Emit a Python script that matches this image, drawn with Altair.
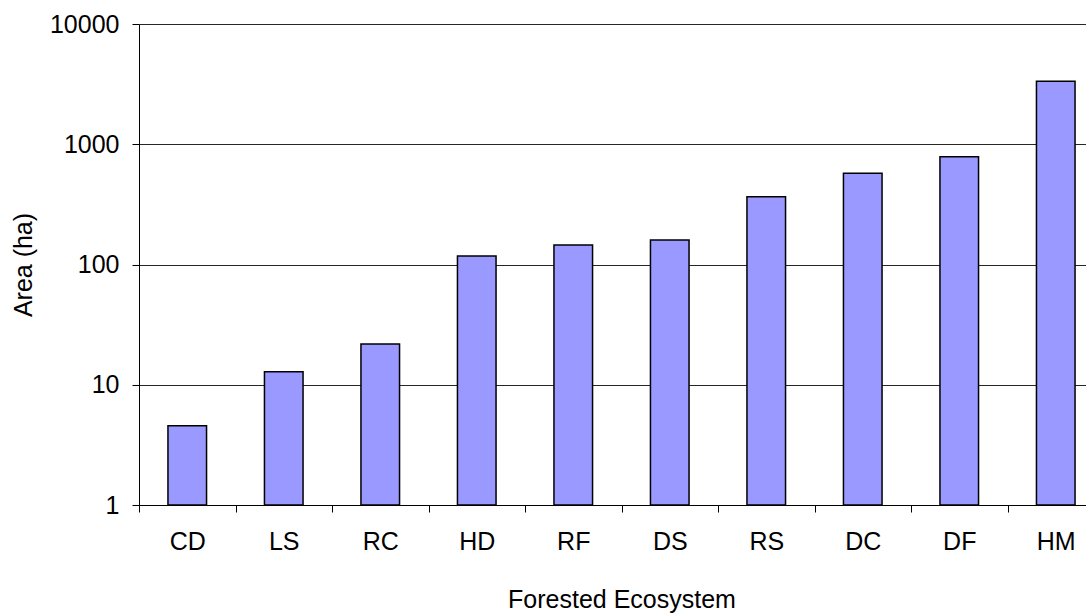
import altair as alt
import pandas as pd

# Area of each forested ecosystem type (ha)
ecosystems = ["CD", "LS", "RC", "HD", "RF", "DS", "RS", "DC", "DF", "HM"]
areas = [4.56, 12.8, 21.8, 117.7, 145.3, 159.9, 366, 573, 788, 3338]

df = pd.DataFrame({"ecosystem": ecosystems, "area": areas})

FONT = "Liberation Sans"
FS = 25

# The category band runs a little past the right edge of the visible view.
BAND_RANGE = 965
STEP = BAND_RANGE / len(ecosystems)

bars = alt.Chart(df).mark_bar(
    color="#9999FF", stroke="#000000", strokeWidth=1.5
).encode(
    x=alt.X(
        "ecosystem:N",
        sort=ecosystems,
        scale=alt.Scale(paddingInner=0.6, paddingOuter=0.3, range=[0, BAND_RANGE]),
        axis=alt.Axis(
            title="Forested Ecosystem",
            titleX=BAND_RANGE / 2,
            labelAngle=0,
            tickOffset=-STEP / 2,
            labelOffset=STEP / 2,
            tickSize=7,
            tickColor="#000000",
            domainColor="#000000",
            labelBaseline="alphabetic",
            labelPadding=37,
            titleY=102,
            titleBaseline="alphabetic",
            grid=False,
        ),
    ),
    y=alt.Y(
        "area:Q",
        scale=alt.Scale(type="log", domain=[1, 10000], nice=False),
        axis=alt.Axis(
            title="Area (ha)",
            values=[1, 10, 100, 1000, 10000],
            format="d",
            tickSize=7,
            tickColor="#000000",
            domainColor="#000000",
            labelPadding=13,
            titleX=-116,
            titleBaseline="middle",
            grid=True,
            gridColor="#000000",
            gridOpacity=0.85,
        ),
    ),
    y2=alt.datum(1),
)

chart = bars.properties(
    width=947,
    height=481,
    autosize=alt.AutoSizeParams(type="none"),
    padding={"left": 139, "top": 24, "right": 0, "bottom": 109},
    background="#FFFFFF",
).configure_view(
    stroke=None
).configure_axis(
    labelFont=FONT,
    titleFont=FONT,
    labelFontSize=FS,
    titleFontSize=FS,
    labelColor="#000000",
    titleColor="#000000",
    titleFontWeight="normal",
    domainWidth=1,
    tickWidth=1,
)

chart.save("out.html", embed_options={"renderer": "svg", "actions": False})
